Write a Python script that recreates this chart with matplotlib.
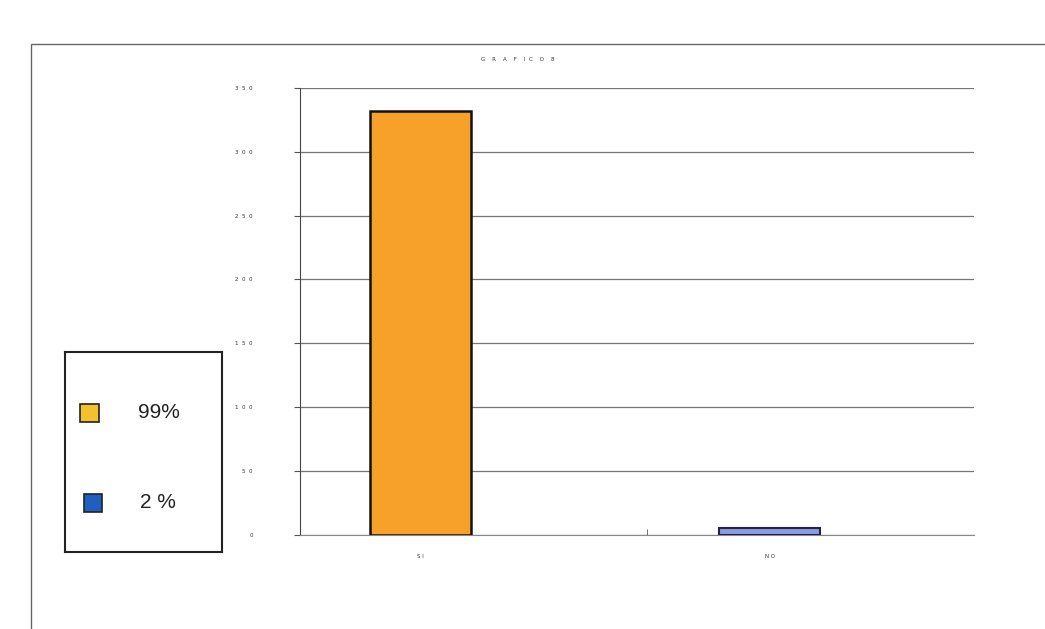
import matplotlib
matplotlib.use("Agg")
import matplotlib.pyplot as plt
from matplotlib.patches import Rectangle

categories = ["S I", "N O"]
values = [332, 5]
ytick_values = [0, 50, 100, 150, 200, 250, 300, 350]
ytick_labels = ["0", "5  0", "1  0  0", "1  5  0", "2  0  0", "2  5  0", "3  0  0", "3  5  0"]
legend_labels = ["99%", "2 %"]
title = "G    R    A    F    I  C    O    8"

fig = plt.figure(figsize=(10.45, 6.29), dpi=100)
fig.patch.set_facecolor("white")

# outer chart frame
fig.add_artist(Rectangle((0.03, -0.05), 1.2, 0.98, transform=fig.transFigure,
                         fill=False, edgecolor="#666666", linewidth=1.0))

ax = fig.add_axes([0.287, 0.15, 0.645, 0.71])
x = [0, 1]
ax.bar(x[0], values[0], width=0.29, color="#F7A12A", edgecolor="#111111", linewidth=1.8, zorder=3)
ax.bar(x[1], values[1], width=0.29, color="#8C9BE0", edgecolor="#222244", linewidth=1.5, zorder=3)
ax.set_xlim(-0.345, 1.585)
ax.set_ylim(0, 350)
ax.set_yticks(ytick_values)
ax.set_yticklabels(ytick_labels, fontsize=4, color="#333333")
ax.set_xticks(x)
ax.set_xticklabels(categories, fontsize=4, color="#333333")
ax.xaxis.set_tick_params(length=0, pad=14)
ax.set_xticks([0.65], minor=True)
ax.tick_params(axis="x", which="minor", length=4, direction="in", color="#555555")
ax.tick_params(axis="y", length=4, direction="out", color="#555555", pad=30)
ax.grid(axis="y", color="#777777", linewidth=0.9, zorder=0)
for s in ["top", "right"]:
    ax.spines[s].set_visible(False)
ax.spines["left"].set_color("#444444")
ax.spines["bottom"].set_color("#888888")
fig.text(0.495, 0.905, title, fontsize=4, color="#333333", ha="center", va="center")

# legend box
lax = fig.add_axes([0.062, 0.122, 0.150, 0.318])
lax.set_xlim(0, 1)
lax.set_ylim(0, 1)
lax.set_xticks([])
lax.set_yticks([])
for s in lax.spines.values():
    s.set_color("#222222")
    s.set_linewidth(1.5)
lax.add_patch(Rectangle((0.1, 0.65), 0.12, 0.09, facecolor="#F2C12E", edgecolor="#222222", linewidth=1.2))
lax.add_patch(Rectangle((0.12, 0.2), 0.12, 0.09, facecolor="#1F5FBF", edgecolor="#222222", linewidth=1.2))
lax.text(0.47, 0.70, legend_labels[0], fontsize=15, va="center", family="Liberation Sans", color="#222222")
lax.text(0.48, 0.25, legend_labels[1], fontsize=15, va="center", family="Liberation Sans", color="#222222")

fig.savefig("out.png", dpi=100)
